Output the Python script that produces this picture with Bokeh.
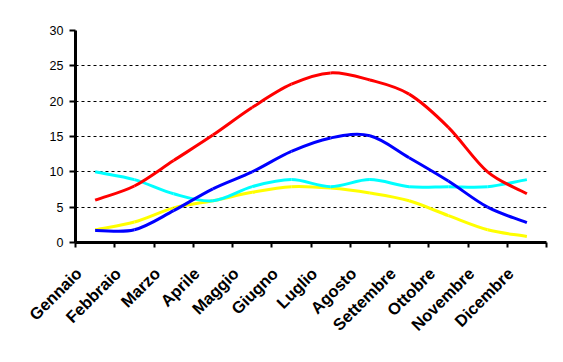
import numpy as np
from bokeh.plotting import figure
from bokeh.models import FixedTicker, Range1d
from bokeh.embed import file_html
from bokeh.resources import INLINE

months = ["Gennaio", "Febbraio", "Marzo", "Aprile", "Maggio", "Giugno",
          "Luglio", "Agosto", "Settembre", "Ottobre", "Novembre", "Dicembre"]
red_vals = [6.0, 8.0, 11.6, 15.2, 19.1, 22.4, 24.0, 23.0, 21.0, 16.3, 10.0, 6.9]
blue_vals = [1.7, 1.8, 4.5, 7.6, 10.0, 12.9, 14.8, 15.1, 12.0, 8.7, 5.0, 2.8]
cyan_vals = [10.0, 8.9, 6.9, 5.9, 7.9, 8.9, 7.9, 8.9, 7.9, 7.9, 7.9, 8.9]
yellow_vals = [1.8, 2.9, 4.9, 5.9, 7.1, 7.9, 7.7, 7.0, 5.9, 3.8, 1.8, 0.85]
y_ticks = [0, 5, 10, 15, 20, 25, 30]

n = len(months)
centers = [i + 0.5 for i in range(n)]
bounds = list(range(n + 1))
label_pos = [c - 0.42 for c in centers]

p = figure(width=555, height=354, output_backend="svg", toolbar_location=None,
           x_range=Range1d(0, n), y_range=Range1d(0, 30),
           min_border_left=75, min_border_right=9, min_border_top=30,
           min_border_bottom=112)
p.outline_line_color = None
p.background_fill_color = "white"
p.border_fill_color = "white"


def smooth(xs, ys, color):
    xs = np.asarray(xs, float)
    ys = np.asarray(ys, float)
    k = len(xs)
    mx = np.zeros(k)
    my = np.zeros(k)
    for i in range(k):
        a = max(i - 1, 0)
        b = min(i + 1, k - 1)
        mx[i] = (xs[b] - xs[a]) / (b - a)
        my[i] = (ys[b] - ys[a]) / (b - a)
    x0 = xs[:-1]; y0 = ys[:-1]; x1 = xs[1:]; y1 = ys[1:]
    cx0 = x0 + mx[:-1] / 3; cy0 = y0 + my[:-1] / 3
    cx1 = x1 - mx[1:] / 3; cy1 = y1 - my[1:] / 3
    p.bezier(x0=x0, y0=y0, x1=x1, y1=y1, cx0=cx0, cy0=cy0, cx1=cx1, cy1=cy1,
             line_color=color, line_width=3)


smooth(centers, yellow_vals, "#FFFF00")
smooth(centers, cyan_vals, "#00FFFF")
smooth(centers, blue_vals, "#0000FF")
smooth(centers, red_vals, "#FF0000")

# y axis
p.yaxis.ticker = FixedTicker(ticks=y_ticks)
p.yaxis.axis_line_width = 3
p.yaxis.axis_line_color = "black"
p.yaxis.major_tick_line_width = 2
p.yaxis.major_tick_out = 6
p.yaxis.major_tick_in = 0
p.yaxis.minor_tick_line_color = None
p.yaxis.major_label_text_font = "Liberation Sans"
p.yaxis.major_label_text_font_size = "12.5px"
p.yaxis.major_label_text_color = "black"
p.yaxis.major_label_standoff = 6

p.ygrid.ticker = FixedTicker(ticks=y_ticks)
p.ygrid.grid_line_color = "black"
p.ygrid.grid_line_width = 1
p.ygrid.grid_line_dash = "3 3"
p.xgrid.visible = False

# x axis
p.xaxis.ticker = FixedTicker(ticks=label_pos, minor_ticks=bounds)
p.xaxis.major_label_overrides = {c: m for c, m in zip(label_pos, months)}
p.xaxis.axis_line_width = 3
p.xaxis.axis_line_color = "black"
p.xaxis.major_tick_line_color = None
p.xaxis.major_tick_out = 0
p.xaxis.major_tick_in = 0
p.xaxis.minor_tick_line_color = "black"
p.xaxis.minor_tick_line_width = 2
p.xaxis.minor_tick_out = 5
p.xaxis.minor_tick_in = 0
p.xaxis.major_label_orientation = np.pi / 4
p.xaxis.major_label_text_font = "Liberation Sans"
p.xaxis.major_label_text_font_style = "bold"
p.xaxis.major_label_text_font_size = "16.5px"
p.xaxis.major_label_text_color = "black"
p.xaxis.major_label_standoff = 23

open("out.html", "w").write(file_html(p, INLINE))
